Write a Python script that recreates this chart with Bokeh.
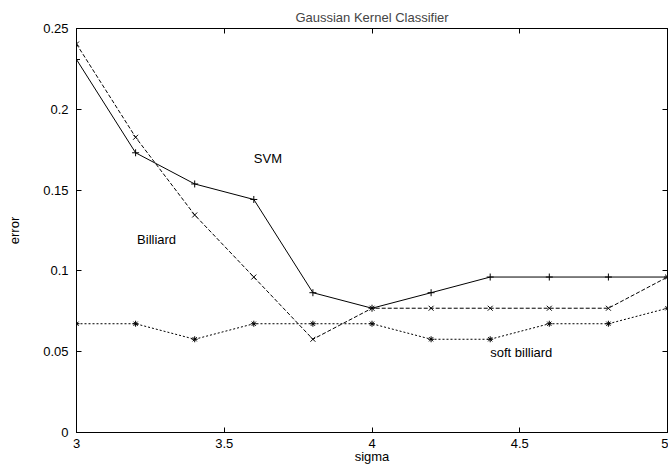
from bokeh.plotting import figure
from bokeh.models import LinearAxis, FixedTicker, ColumnDataSource, Range1d, CustomJSTickFormatter
from bokeh.core.properties import value
from bokeh.embed import file_html
from bokeh.resources import INLINE

# ---- data ----
sigma = [3.0, 3.2, 3.4, 3.6, 3.8, 4.0, 4.2, 4.4, 4.6, 4.8, 5.0]
svm_err = [0.2308, 0.1731, 0.1538, 0.1442, 0.0865, 0.0769, 0.0865, 0.0962, 0.0962, 0.0962, 0.0962]
billiard_err = [0.2404, 0.1827, 0.1346, 0.0962, 0.0577, 0.0769, 0.0769, 0.0769, 0.0769, 0.0769, 0.0962]
soft_err = [0.0673, 0.0673, 0.0577, 0.0673, 0.0673, 0.0673, 0.0577, 0.0577, 0.0673, 0.0673, 0.0769]
x_ticks = [3, 3.5, 4, 4.5, 5]
y_ticks = [0, 0.05, 0.1, 0.15, 0.2, 0.25]
label_text = ["SVM", "Billiard", "soft billiard"]
label_x = [3.6, 3.205, 4.40]
label_y = [0.1696, 0.1194, 0.0495]

FONT = "Liberation Sans"

p = figure(width=668, height=468, output_backend="svg", toolbar_location=None,
           x_range=Range1d(3, 5), y_range=Range1d(0, 0.25),
           title="Gaussian Kernel Classifier",
           min_border_left=76, min_border_top=28, min_border_bottom=36, min_border_right=1)
p.title.align = "center"
p.title.text_font = FONT
p.title.text_font_size = "13px"
p.title.text_font_style = "normal"
p.title.offset = 0
p.title.standoff = 8

p.xgrid.visible = False
p.ygrid.visible = False
p.outline_line_color = "black"
p.outline_line_width = 1
p.background_fill_color = "white"
p.border_fill_color = "white"

blank = CustomJSTickFormatter(code="return ''")

def style_axis(ax, ticks, show_labels=True):
    ax.ticker = FixedTicker(ticks=ticks)
    ax.major_tick_in = 5
    ax.major_tick_out = 0
    ax.minor_tick_line_color = None
    ax.axis_line_color = "black"
    ax.major_tick_line_color = "black"
    ax.major_label_text_font = FONT
    ax.major_label_text_font_size = "13px"
    ax.major_label_text_color = "black"
    if not show_labels:
        ax.formatter = blank
        ax.major_label_standoff = 0

xa = p.xaxis[0]
ya = p.yaxis[0]
style_axis(xa, x_ticks)
style_axis(ya, y_ticks)
xa.major_label_standoff = 6
ya.major_label_standoff = 8
xa.axis_label = "sigma"
ya.axis_label = "error"
for ax in (xa, ya):
    ax.axis_label_text_font = FONT
    ax.axis_label_text_font_size = "13px"
    ax.axis_label_text_font_style = "normal"
    ax.axis_label_text_color = "black"
xa.axis_label_standoff = -2
ya.axis_label_standoff = 18

top = LinearAxis()
right = LinearAxis()
style_axis(top, x_ticks, False)
style_axis(right, y_ticks, False)
p.add_layout(top, "above")
p.add_layout(right, "right")

src = ColumnDataSource(dict(x=sigma, svm=svm_err, bil=billiard_err, soft=soft_err))

p.line("x", "svm", source=src, line_color="black", line_width=1)
p.scatter("x", "svm", source=src, marker="cross", size=7, line_color="black", line_width=1)

p.line("x", "bil", source=src, line_color="black", line_width=1, line_dash="4 2")
p.scatter("x", "bil", source=src, marker="x", size=7, line_color="black", line_width=1)

p.line("x", "soft", source=src, line_color="black", line_width=1, line_dash="2 2")
p.scatter("x", "soft", source=src, marker="asterisk", size=6, line_color="black", line_width=1)

lsrc = ColumnDataSource(dict(x=label_x, y=label_y, t=label_text))
p.text("x", "y", text="t", source=lsrc, text_font=value(FONT), text_font_size="13px",
       text_align="left", text_baseline="middle", text_color="black")

open("out.html", "w").write(file_html(p, INLINE))
